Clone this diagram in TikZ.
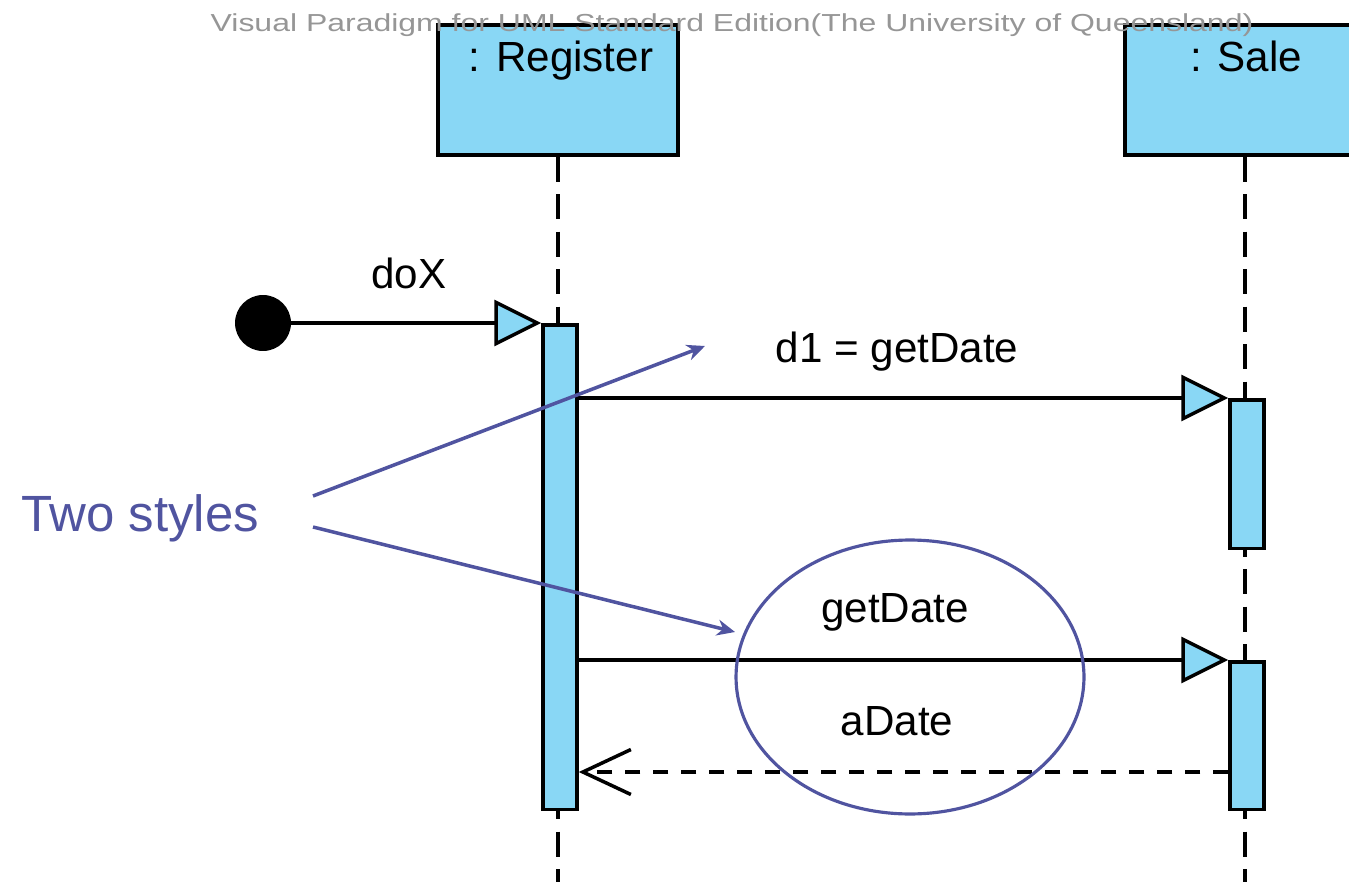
\documentclass[tikz,border=0pt]{standalone}
\usepackage{fontspec}
\setmainfont{Liberation Sans}
\usetikzlibrary{arrows.meta,positioning,shapes.geometric}
\definecolor{lifeblue}{RGB}{137,215,245}
\definecolor{noteblue}{RGB}{80,84,160}
\definecolor{wmgray}{RGB}{150,150,150}

\begin{document}
\begin{tikzpicture}[x=0.02cm,y=-0.02cm,
  objbox/.style={draw,line width=2pt,fill=lifeblue,minimum width=4.8cm,minimum height=2.6cm},
  actbar/.style={draw,line width=2pt,fill=lifeblue,minimum width=0.68cm,inner sep=0,anchor=north},
  lifeline/.style={line width=2pt,dash pattern=on 0.5cm off 0.25cm},
  msg/.style={line width=2pt,-{Triangle[length=0.94cm,width=0.92cm,fill=lifeblue]}},
  ret/.style={line width=2pt,dash pattern=on 0.3cm off 0.26cm,-{Straight Barb[length=0.96cm,width=0.9cm]}},
  lbl/.style={inner sep=0,anchor=base,font=\fontsize{24}{28}\selectfont},
  callout/.style={noteblue,line width=2pt,-{Stealth[length=0.36cm,width=0.32cm]}}]
\useasboundingbox (0,0) rectangle (1349,882);
\clip (0,0) rectangle (1349,882);
% objects
\node[objbox] (reg) at (558,90) {};
\node[objbox] (sale) at (1245,90) {};
\node[lbl] (regname) at (561,72) {: Register};
\node[lbl] (salename) at (1246,72) {: Sale};
% lifelines
\coordinate (bottom) at (0,882);
\draw[lifeline] (reg.south) -- (reg.south |- bottom);
\draw[lifeline] (sale.south) -- (sale.south |- bottom);
% activations
\node[actbar,minimum height=9.7cm] (regact) at (560,323) {};
\node[actbar,minimum height=2.98cm] (saleact1) at (1247,398) {};
\node[actbar,minimum height=2.96cm] (saleact2) at (1247,660) {};
% found message
\node[circle,fill=black,minimum size=1.12cm,inner sep=0] (start) at (263,323) {};
\draw[msg] (start) -- (regact.north west);
\node[lbl] (dox) at (409,288) {doX};
% d1 = getDate
\draw[msg] (regact.east |- saleact1.north) -- (saleact1.north west);
\node[lbl] (d1) at (897,362) {d1 = getDate};
% getDate with reply
\draw[msg] (regact.east |- saleact2.north) -- (saleact2.north west);
\node[lbl] (gd) at (895,622) {getDate};
\coordinate (retrow) at (0,772);
\draw[ret] (saleact2.west |- retrow) -- (regact.east |- retrow);
\node[lbl] (adate) at (897,735) {aDate};
% note
\node[ellipse,draw=noteblue,line width=1.8pt,minimum width=6.96cm,minimum height=5.48cm] (ring) at (910,677) {};
\node[lbl,text=noteblue,font=\fontsize{29}{34}\selectfont] (two) at (140,531) {Two styles};
\coordinate (tail1) at (313,496);
\coordinate (tail2) at (313,527);
\coordinate (tip1) at (705,346);
\coordinate (tip2) at (735,632);
\draw[callout] (tail1) -- (tip1);
\draw[callout] (tail2) -- (tip2);
% watermark
\node[inner sep=0,anchor=base,text=wmgray,font=\fontsize{14}{16}\selectfont] (wm) at (732,32) {\scalebox{1.3}[1]{Visual Paradigm for UML Standard Edition(The University of Queensland)}};
\end{tikzpicture}
\end{document}
